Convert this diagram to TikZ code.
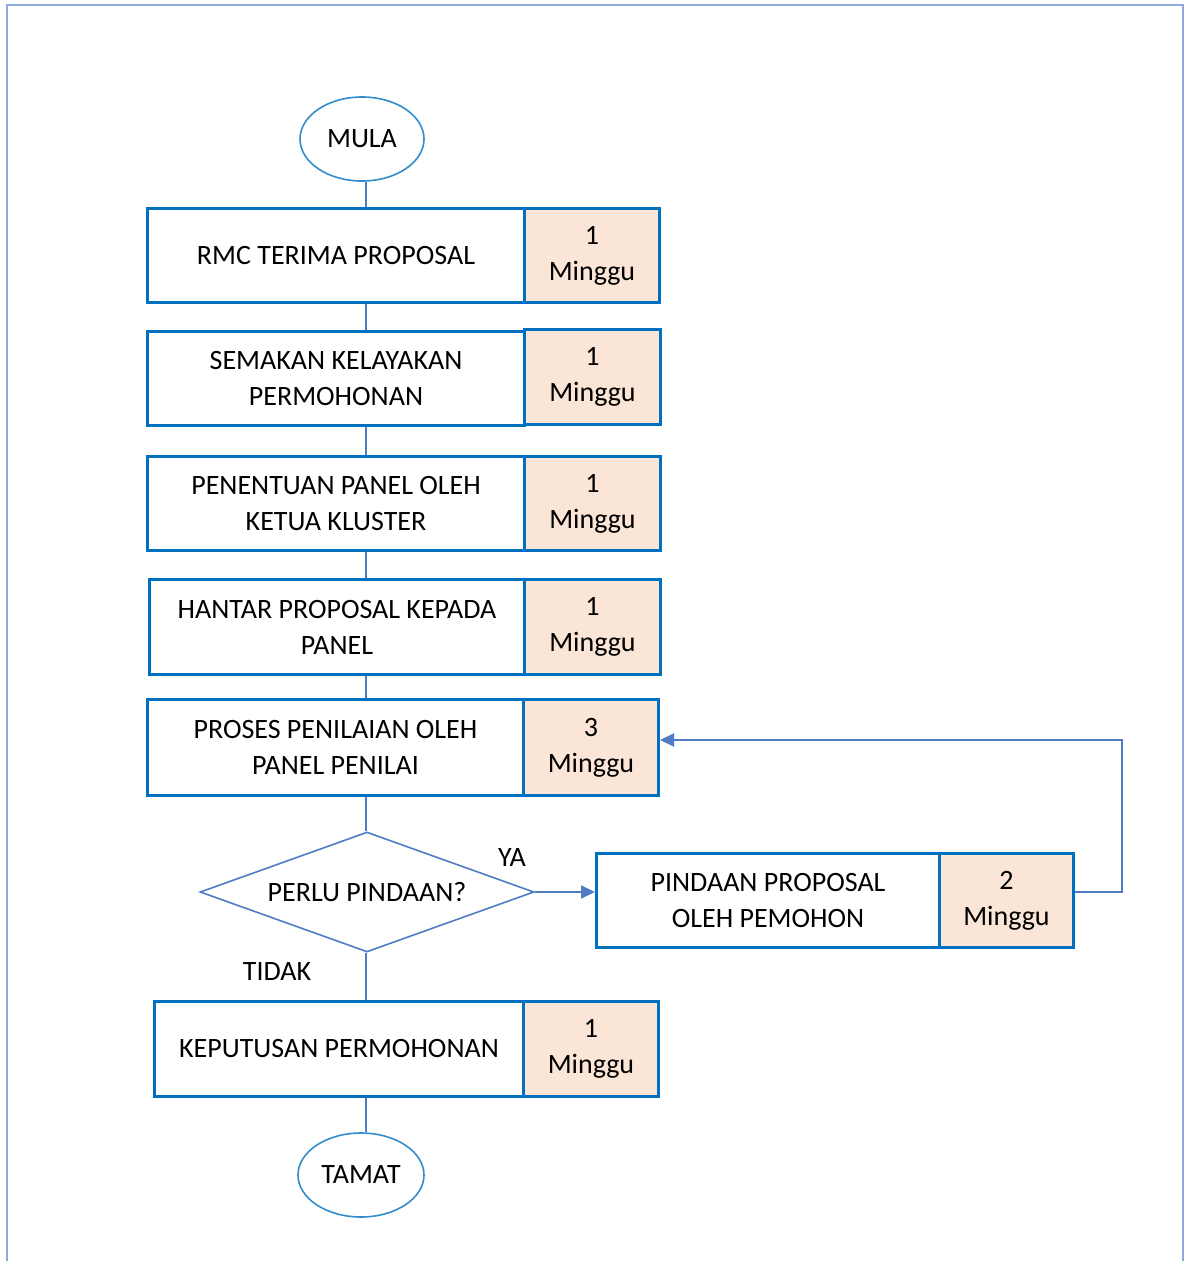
\documentclass[tikz,border=0pt]{standalone}
\usepackage{fontspec}
\setmainfont{Carlito}
\usetikzlibrary{shapes.geometric,arrows.meta}
\definecolor{frame}{RGB}{143,170,220}
\definecolor{boxblue}{RGB}{0,112,192}
\definecolor{linkblue}{RGB}{80,124,196}
\definecolor{peach}{RGB}{251,229,214}
\tikzset{
  mainbox/.style={draw=boxblue,line width=3pt,fill=white,rectangle,inner sep=0pt,align=center,font=\fontsize{28}{36}\selectfont},
  durbox/.style={draw=boxblue,line width=3pt,fill=peach,rectangle,inner sep=0pt,align=center,font=\fontsize{28}{36}\selectfont},
  terminal/.style={draw=boxblue!80!white,line width=1.6pt,ellipse,inner sep=0pt,minimum width=124pt,minimum height=84pt,font=\fontsize{28}{36}\selectfont},
  decision/.style={draw=linkblue,line width=1.6pt,diamond,aspect=2.78,inner sep=0pt,minimum width=334pt,minimum height=120pt,font=\fontsize{28}{36}\selectfont},
  conn/.style={draw=linkblue,line width=2pt},
  arr/.style={conn,-{Triangle[length=14pt,width=13pt]}},
  lbl/.style={font=\fontsize{28}{36}\selectfont,inner sep=0pt}
}
\begin{document}
\begin{tikzpicture}[x=1pt,y=-1pt]
\useasboundingbox (0,0) rectangle (1185,1261);
% frame
\draw[frame,line width=2pt] (7,1261) -- (7,5) -- (1183,5) -- (1183,1261);
\coordinate (sp) at (366,0);

\node[terminal] (mula) at (362,139) {MULA};

\node[mainbox,minimum width=377pt,minimum height=94pt,anchor=north west] (m1) at (146,207) {RMC TERIMA PROPOSAL};
\node[durbox,minimum width=135pt,minimum height=94pt,anchor=north west] (d1) at (523,207) {1\\Minggu};

\node[mainbox,minimum width=377pt,minimum height=94pt,anchor=north west] (m2) at (146,330) {SEMAKAN KELAYAKAN\\PERMOHONAN};
\node[durbox,minimum width=136pt,minimum height=95pt,anchor=north west] (d2) at (523,328) {1\\Minggu};

\node[mainbox,minimum width=377pt,minimum height=94pt,anchor=north west] (m3) at (146,455) {PENENTUAN PANEL OLEH\\KETUA KLUSTER};
\node[durbox,minimum width=136pt,minimum height=94pt,anchor=north west] (d3) at (523,455) {1\\Minggu};

\node[mainbox,minimum width=375pt,minimum height=95pt,anchor=north west] (m4) at (148,578) {HANTAR PROPOSAL KEPADA\\PANEL};
\node[durbox,minimum width=136pt,minimum height=95pt,anchor=north west] (d4) at (523,578) {1\\Minggu};

\node[mainbox,minimum width=376pt,minimum height=96pt,anchor=north west] (m5) at (146,698) {PROSES PENILAIAN OLEH\\PANEL PENILAI};
\node[durbox,minimum width=135pt,minimum height=96pt,anchor=north west] (d5) at (522,698) {3\\Minggu};

\node[decision] (dec) at (367,892) {PERLU PINDAAN?};

\node[mainbox,minimum width=343pt,minimum height=94pt,anchor=north west] (m6) at (595,852) {PINDAAN PROPOSAL\\OLEH PEMOHON};
\node[durbox,minimum width=134pt,minimum height=94pt,anchor=north west] (d6) at (938,852) {2\\Minggu};

\node[mainbox,minimum width=369pt,minimum height=95pt,anchor=north west] (m7) at (153,1000) {KEPUTUSAN PERMOHONAN};
\node[durbox,minimum width=135pt,minimum height=95pt,anchor=north west] (d7) at (522,1000) {1\\Minggu};

\node[terminal,minimum width=126pt] (tamat) at (361,1175) {TAMAT};

\node[lbl] (ya) at (512,858) {YA};
\node[lbl] (tidak) at (277,972) {TIDAK};

% connectors
\draw[conn] (sp |- mula.south) -- (sp |- m1.north);
\draw[conn] (sp |- m1.south) -- (sp |- m2.north);
\draw[conn] (sp |- m2.south) -- (sp |- m3.north);
\draw[conn] (sp |- m3.south) -- (sp |- m4.north);
\draw[conn] (sp |- m4.south) -- (sp |- m5.north);
\draw[conn] (sp |- m5.south) -- (sp |- dec.north);
\draw[conn] (sp |- dec.south) -- (sp |- m7.north);
\draw[conn] (sp |- m7.south) -- (sp |- tamat.north);
\draw[arr] (dec.east) -- (m6.west |- dec.east);
\coordinate (lp) at (1122,740);
\draw[arr] (d6.east |- dec.east) -- (lp |- dec.east) -- (lp) -- (lp -| d5.east);
\end{tikzpicture}
\end{document}
